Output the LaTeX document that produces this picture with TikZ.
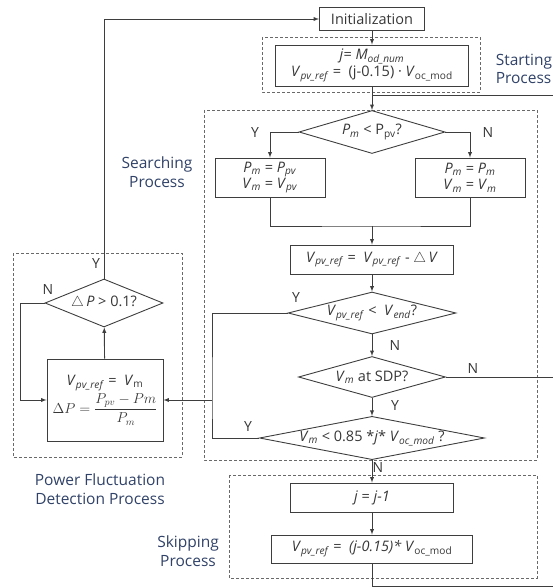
\documentclass[tikz,border=0pt]{standalone}
\usepackage{amsmath,amssymb}
\usepackage{fontspec}
\setmainfont{Open Sans}
\usepackage{tikz}
\usetikzlibrary{shapes.geometric,positioning}

\definecolor{linegray}{RGB}{62,62,62}
\definecolor{txtgray}{RGB}{55,55,55}
\definecolor{lblblue}{RGB}{48,66,104}
\definecolor{dashgray}{RGB}{105,105,105}
\newcommand{\iv}[2]{\textit{#1}\textsubscript{\textit{#2}}}
\newcommand{\uv}[2]{\textit{#1}\textsubscript{#2}}

\begin{document}
\begin{tikzpicture}[x=1pt, y=-1pt, >=latex, line width=0.9pt, color=linegray,
  box/.style={draw, rectangle, inner sep=1pt, align=center, text=txtgray,
    font=\fontsize{14.5}{16.5}\selectfont},
  decision/.style={draw, diamond, inner sep=0pt, align=center, text=txtgray,
    font=\fontsize{14.5}{16.5}\selectfont},
  region/.style={draw=dashgray, dash pattern=on 3pt off 2pt, line width=0.8pt},
  process/.style={text=lblblue, align=center, font=\fontsize{15.5}{18.5}\selectfont},
  yn/.style={text=txtgray, font=\fontsize{14}{16}\selectfont}]
\useasboundingbox (0,0) rectangle (552,588);

% dashed process regions
\draw [region] (262,37) rectangle (480,92);
\draw [region] (204,110) rectangle (537,460);
\draw [region] (13,253) rectangle (182,457);
\draw [region] (229,475) rectangle (537,578);

% main column
\node [box, minimum width=105pt, minimum height=23pt] (init) at (372,19) {Initialization};
\node [box, minimum width=193pt, minimum height=41pt] (start) at (372,65.5)
  {\textit{j}= \iv{M}{od\_num}\\ \iv{V}{pv\_ref} = \ (j-0.15) · \uv{V}{oc\_mod}};
\node [decision, minimum width=146pt, minimum height=43pt, aspect=3.4] (d1) at (372,132)
  {\iv{P}{m} < P\textsubscript{pv}?};
\node [box, minimum width=110pt, minimum height=39pt] (ly) at (270,177.5)
  {\iv{P}{m} = \iv{P}{pv}\\ \iv{V}{m} = \iv{V}{pv}};
\node [box, minimum width=110pt, minimum height=39pt] (ry) at (470,177.5)
  {\iv{P}{m} = \iv{P}{m}\\ \iv{V}{m} = \iv{V}{m}};
\node [box, minimum width=163pt, minimum height=29pt] (upd) at (372,259.5)
  {\iv{V}{pv\_ref} = \ \iv{V}{pv\_ref} - $\triangle$\,\textit{V}};
\node [decision, minimum width=168pt, minimum height=42pt, aspect=4] (d2) at (372,313)
  {\iv{V}{pv\_ref} < \ \iv{V}{end}?};
\node [decision, minimum width=147pt, minimum height=41pt, aspect=3.6] (d3) at (372,377)
  {\iv{V}{m} at SDP?};
\node [decision, minimum width=218pt, minimum height=42pt, aspect=5.2] (d4) at (372,438)
  {\iv{V}{m} < 0.85 *\textit{j}* \iv{V}{oc\_mod} ?};
\node [box, minimum width=163pt, minimum height=29pt] (dec) at (372,497.5)
  {\textit{j} = \textit{j-1}};
\node [box, minimum width=201pt, minimum height=28pt] (fin) at (372,549)
  {\iv{V}{pv\_ref} = \ \textit{(j-0.15)*} \uv{V}{oc\_mod}};

% power fluctuation detection
\node [decision, minimum width=118pt, minimum height=48pt, aspect=2.5] (d5) at (104,303)
  {$\triangle$\,\textit{P} > 0.1?};
\node [box, minimum width=116pt, minimum height=82pt] (pfd) at (105,400)
  {\iv{V}{pv\_ref} = \ \uv{V}{m}\\[2pt] $\Delta P=\dfrac{P_{pv}-Pm}{P_m}$};

% process labels
\node [process, anchor=west, align=left] (lstart) at (492,69) {Starting\\Process};
\node [process] (lsearch) at (157,172) {Searching\\Process};
\node [process] (lpfd) at (100,489) {Power Fluctuation\\Detection Process};
\node [process] (lskip) at (188,551) {Skipping\\Process};

% helper points
\coordinate (m1) at (372,95);
\coordinate (e1) at (560,95);
\coordinate (j1) at (372,226);
\coordinate (lft) at (212,400);
\coordinate (e2) at (560,377);
\coordinate (b1) at (372,586);
\coordinate (e3) at (560,586);
\coordinate (nl) at (20,303);

% connectors
\path [->]
(init) edge (start)
(start) edge (d1)
(j1) edge (upd)
(upd) edge (d2)
(d2) edge (d3)
(d3) edge (d4)
(d4) edge (dec)
(dec) edge (fin)
(pfd) edge (d5)
(lft) edge (pfd);
\draw (e1) -- (m1);
\draw [->] (d1) -| (ly);
\draw [->] (d1) -| (ry);
\draw (ly) |- (j1) -| (ry);
\draw (d2) -| (lft) |- (d4);
\draw (d3) -- (e2);
\draw (fin) -- (b1) -- (e3);
\draw [->] (d5) |- (init);
\draw [->] (d5) -- (nl) |- (pfd);

% branch labels
\node [yn] (y1) at (255,133) {Y};
\node [yn] (n1) at (488,133) {N};
\node [yn] (y2) at (296,298) {Y};
\node [yn] (n2) at (395,345) {N};
\node [yn] (n3) at (473,368) {N};
\node [yn] (y3) at (395,405) {Y};
\node [yn] (y4) at (248,426) {Y};
\node [yn] (n4) at (378,467) {N};
\node [yn] (y5) at (96,264) {Y};
\node [yn] (n5) at (48,290) {N};
\end{tikzpicture}
\end{document}
